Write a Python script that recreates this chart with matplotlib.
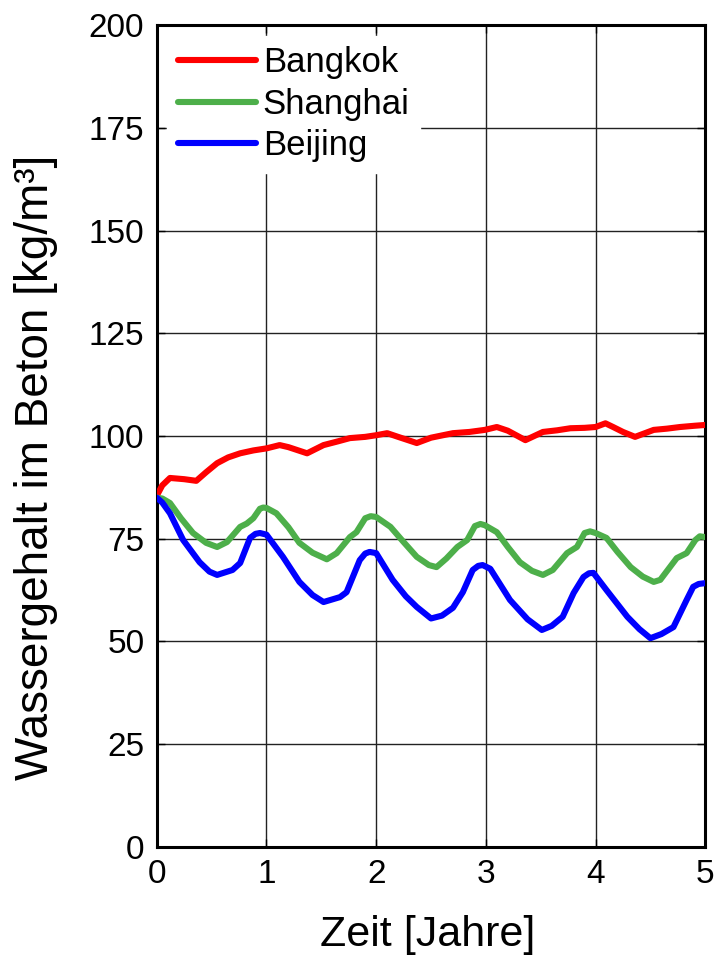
import matplotlib
matplotlib.use('Agg')
import matplotlib.pyplot as plt

plt.rcParams['font.family'] = ['Liberation Sans', 'DejaVu Sans']

# Time in years, values in kg/m3
bangkok_t = [0.0, 0.05, 0.12, 0.25, 0.36, 0.45, 0.55, 0.65, 0.76, 0.88, 1.0, 1.12, 1.2,
             1.37, 1.52, 1.65, 1.76, 1.9, 2.0, 2.1, 2.2, 2.37, 2.5, 2.7, 2.85, 2.99, 3.1,
             3.2, 3.36, 3.52, 3.65, 3.77, 3.9, 4.0, 4.09, 4.16, 4.25, 4.36, 4.53, 4.65,
             4.77, 4.9, 5.0]
bangkok_v = [85.5, 88.0, 89.8, 89.5, 89.1, 91.2, 93.4, 94.8, 95.8, 96.5, 97.0, 97.8, 97.3,
             95.8, 97.8, 98.7, 99.5, 99.8, 100.2, 100.7, 99.8, 98.3, 99.6, 100.7, 101.0,
             101.5, 102.2, 101.3, 99.0, 101.0, 101.4, 101.9, 102.0, 102.2, 103.1, 102.2,
             101.0, 99.8, 101.5, 101.8, 102.2, 102.5, 102.7]

shanghai_t = [0.0, 0.05, 0.12, 0.22, 0.33, 0.45, 0.55, 0.64, 0.76, 0.82, 0.88, 0.94, 0.97,
              1.0, 1.09, 1.2, 1.3, 1.42, 1.55, 1.64, 1.76, 1.82, 1.9, 1.95, 2.0, 2.13,
              2.25, 2.37, 2.48, 2.55, 2.64, 2.74, 2.83, 2.9, 2.95, 2.99, 3.1, 3.2, 3.31,
              3.42, 3.52, 3.61, 3.74, 3.83, 3.9, 3.95, 4.0, 4.1, 4.2, 4.32, 4.43, 4.53,
              4.59, 4.74, 4.83, 4.91, 4.95, 5.0]
shanghai_v = [85.0, 84.8, 83.7, 80.0, 76.4, 74.0, 73.0, 74.2, 77.9, 78.7, 80.0, 82.3, 82.6,
              82.5, 81.2, 77.8, 74.0, 71.6, 70.0, 71.5, 75.4, 76.6, 80.0, 80.5, 80.3, 77.9,
              74.2, 70.6, 68.6, 68.1, 70.2, 73.0, 74.7, 78.1, 78.6, 78.3, 76.6, 73.0, 69.3,
              67.2, 66.2, 67.4, 71.5, 73.0, 76.4, 76.8, 76.4, 75.2, 71.8, 68.1, 65.8, 64.5,
              65.0, 70.3, 71.5, 74.7, 75.6, 75.4]

beijing_t = [0.0, 0.05, 0.12, 0.24, 0.39, 0.48, 0.55, 0.69, 0.76, 0.85, 0.9, 0.94, 1.0,
             1.15, 1.3, 1.42, 1.52, 1.67, 1.73, 1.85, 1.9, 1.94, 2.0, 2.15, 2.27, 2.37,
             2.5, 2.6, 2.7, 2.79, 2.88, 2.93, 2.97, 3.04, 3.22, 3.38, 3.51, 3.6, 3.7,
             3.8, 3.89, 3.94, 3.98, 4.1, 4.29, 4.4, 4.5, 4.6, 4.71, 4.83, 4.89, 4.94, 5.0]
beijing_v = [85.0, 83.8, 81.2, 74.7, 69.3, 67.0, 66.2, 67.4, 69.1, 75.2, 76.2, 76.4, 76.0,
             70.6, 64.5, 61.3, 59.6, 60.8, 62.0, 69.8, 71.4, 71.8, 71.5, 65.0, 61.0, 58.4,
             55.6, 56.3, 58.2, 62.0, 67.4, 68.4, 68.6, 67.7, 60.1, 55.4, 52.8, 53.8, 56.0,
             61.8, 65.7, 66.6, 66.7, 62.5, 56.0, 53.0, 50.8, 51.8, 53.5, 60.1, 63.3, 64.0,
             64.2]

x_ticks = [0, 1, 2, 3, 4, 5]
y_ticks = [0, 25, 50, 75, 100, 125, 150, 175, 200]

fig = plt.figure(figsize=(7.16, 9.69), dpi=100)
ax = fig.add_axes([0.219, 0.126, 0.766, 0.848])

line_kw = dict(lw=4.4, solid_joinstyle='round', solid_capstyle='round', zorder=3)
ax.plot(bangkok_t, bangkok_v, color='#ff0000', label='Bangkok', **line_kw)
ax.plot(shanghai_t, shanghai_v, color='#4daf4a', label='Shanghai', **line_kw)
ax.plot(beijing_t, beijing_v, color='#0000ff', label='Beijing', **line_kw)

ax.set_xlim(0, 5)
ax.set_ylim(0, 200)
ax.set_xticks(x_ticks)
ax.set_yticks(y_ticks)
ax.grid(True, color='#222222', lw=1.0)
ax.tick_params(direction='in', length=6, width=1, labelsize=24, pad=9,
               top=True, right=True)
for s in ax.spines.values():
    s.set_linewidth(2.2)

ax.set_xlabel('Zeit [Jahre]', fontsize=31)
ax.set_ylabel('Wassergehalt im Beton [kg/m³]', fontsize=33)
ax.xaxis.set_label_coords(0.494, -0.083)
ax.yaxis.set_label_coords(-0.18, 0.462)

leg = ax.legend(loc='upper left', fontsize=25, frameon=True, fancybox=False,
                edgecolor='white', framealpha=1.0, handlelength=2.25,
                handletextpad=0.2, labelspacing=0.25, borderaxespad=0.3,
                borderpad=0.3)
leg.set_zorder(5)

fig.savefig('out.png', dpi=100)
